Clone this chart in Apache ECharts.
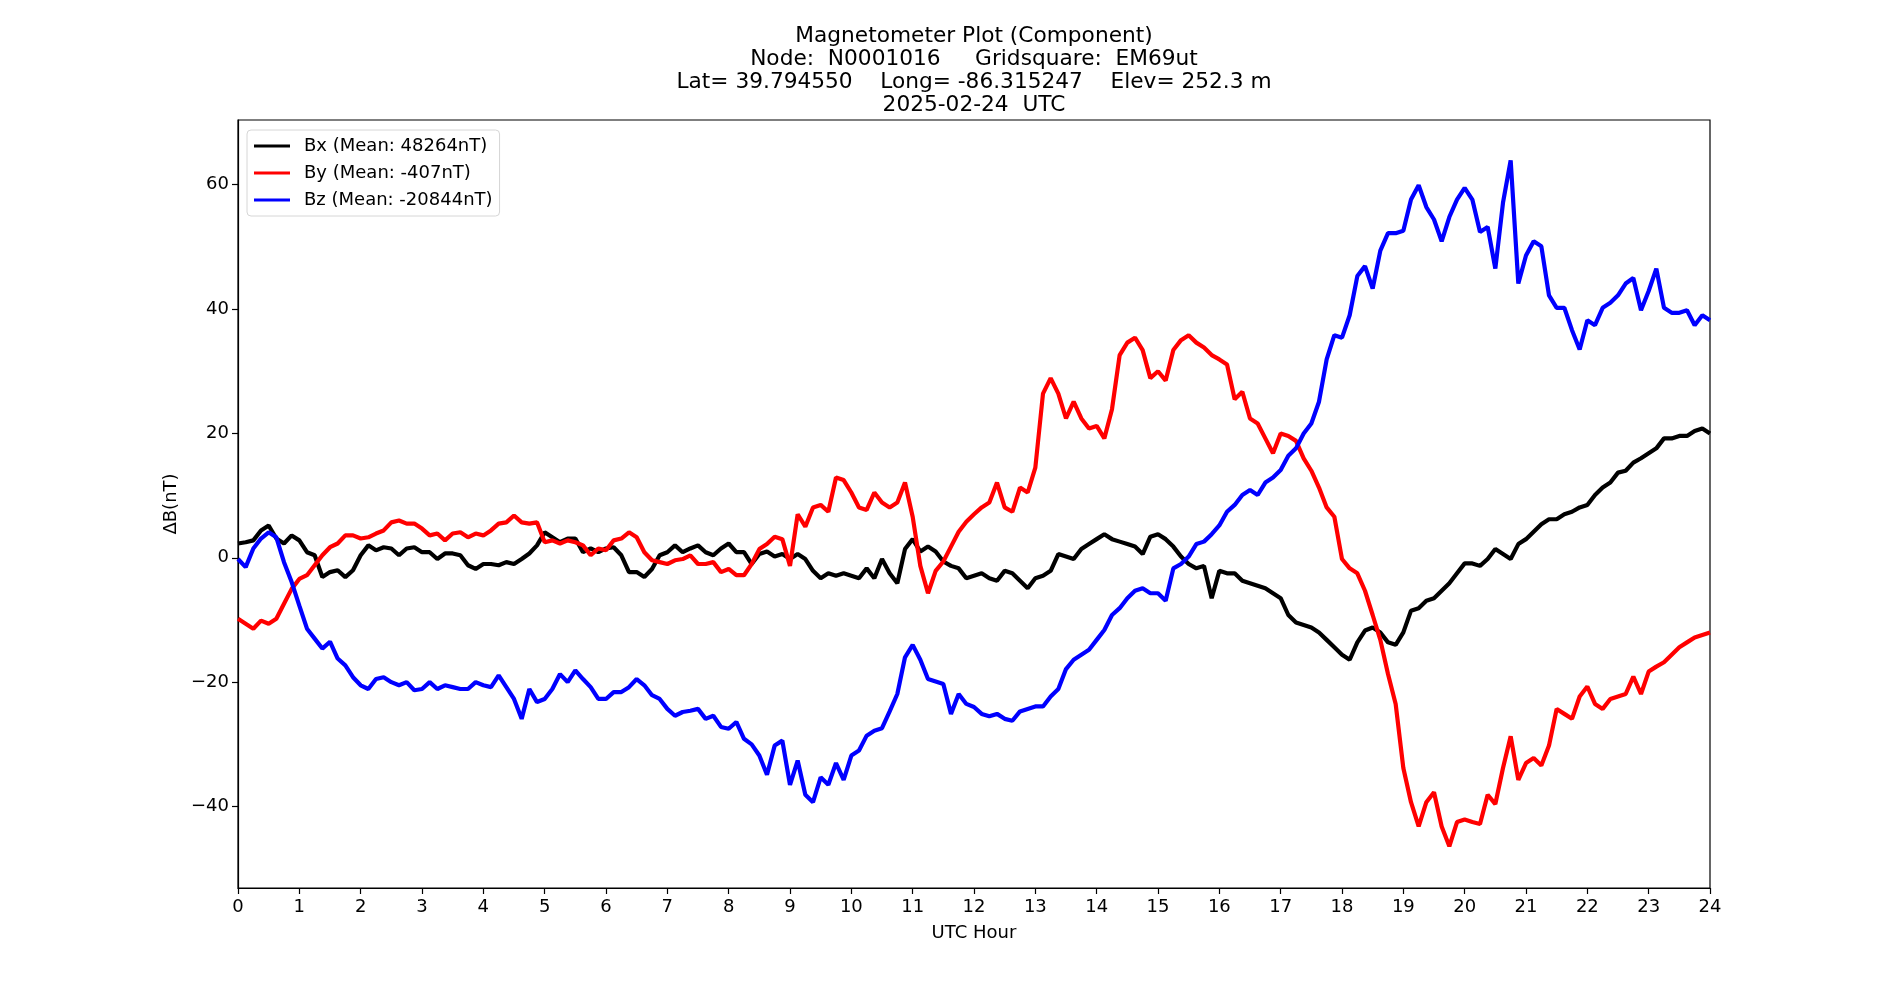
<!DOCTYPE html>
<html>
<head>
<meta charset="utf-8">
<title>Magnetometer Plot</title>
<script src="https://cdn.jsdelivr.net/npm/echarts@6/dist/echarts.min.js"></script>
<style>
  html, body { margin: 0; padding: 0; background: #fff; }
  #root { width: 1900px; height: 1000px; }
</style>
</head>
<body>
<div id="root"></div>
<script>
// delta B in nT, every 1/8 hour (one row = one hour)
const step = 0.125;
const bx = [
  2.3, 2.5, 2.8, 4.4, 5.2, 3.1, 2.3, 3.6,
  2.8, 0.9, 0.4, -3.1, -2.3, -2.0, -3.1, -2.0,
  0.4, 2.0, 1.2, 1.7, 1.5, 0.4, 1.5, 1.7,
  0.9, 0.9, -0.2, 0.7, 0.7, 0.4, -1.2, -1.8,
  -1.0, -1.0, -1.2, -0.7, -1.0, -0.2, 0.7, 2.0,
  4.1, 3.3, 2.5, 3.1, 3.1, 0.9, 1.5, 0.9,
  1.5, 1.7, 0.4, -2.3, -2.3, -3.1, -1.8, 0.4,
  0.9, 2.0, 0.9, 1.5, 2.0, 0.9, 0.4, 1.5,
  2.3, 0.9, 0.9, -1.0, 0.6, 1.0, 0.2, 0.6,
  -0.2, 0.6, -0.2, -2.1, -3.3, -2.5, -2.9, -2.5,
  -2.9, -3.3, -1.7, -3.3, -0.2, -2.5, -4.1, 1.4,
  3.0, 1.0, 1.8, 1.0, -0.6, -1.3, -1.7, -3.3,
  -2.9, -2.5, -3.3, -3.7, -2.1, -2.5, -3.7, -4.9,
  -3.3, -2.9, -2.1, 0.6, 0.2, -0.2, 1.4, 2.2,
  3.0, 3.8, 3.0, 2.6, 2.2, 1.8, 0.6, 3.4,
  3.8, 3.0, 1.8, 0.2, -1.0, -1.7, -1.3, -6.5,
  -2.1, -2.5, -2.5, -3.7, -4.1, -4.5, -4.9, -5.7,
  -6.5, -9.2, -10.4, -10.8, -11.2, -12.0, -13.2, -14.4,
  -15.6, -16.4, -13.6, -11.7, -11.2, -12.0, -13.6, -14.0,
  -12.0, -8.5, -8.1, -6.9, -6.5, -5.3, -4.1, -2.5,
  -0.9, -0.9, -1.3, -0.2, 1.4, 0.6, -0.2, 2.2,
  3.0, 4.2, 5.4, 6.2, 6.2, 7.0, 7.4, 8.1,
  8.5, 10.1, 11.3, 12.1, 13.7, 14.0, 15.3, 16.0,
  16.8, 17.6, 19.2, 19.2, 19.6, 19.6, 20.4, 20.8,
  20.0
];
const by = [
  -9.8, -10.6, -11.4, -10.1, -10.6, -9.8, -7.4, -5.0,
  -3.4, -2.8, -1.2, 0.4, 1.7, 2.3, 3.6, 3.6,
  3.1, 3.3, 3.9, 4.4, 5.7, 6.0, 5.5, 5.5,
  4.7, 3.6, 3.9, 2.8, 3.9, 4.1, 3.3, 3.9,
  3.6, 4.4, 5.5, 5.7, 6.8, 5.7, 5.5, 5.7,
  2.5, 2.8, 2.3, 2.8, 2.5, 2.0, 0.4, 1.5,
  1.2, 2.8, 3.1, 4.1, 3.3, 0.9, -0.4, -0.7,
  -1.0, -0.4, -0.2, 0.4, -1.0, -1.0, -0.7, -2.3,
  -1.8, -2.8, -2.8, -1.0, 1.4, 2.2, 3.4, 3.0,
  -1.3, 7.0, 5.0, 8.1, 8.5, 7.4, 12.9, 12.5,
  10.5, 8.1, 7.7, 10.5, 8.9, 8.1, 8.9, 12.1,
  6.6, -1.3, -5.7, -2.1, -0.6, 1.8, 4.2, 5.8,
  7.0, 8.1, 8.9, 12.1, 8.1, 7.4, 11.3, 10.5,
  14.5, 26.4, 28.9, 26.4, 22.4, 25.1, 22.4, 20.8,
  21.2, 19.2, 23.9, 32.6, 34.6, 35.4, 33.4, 28.9,
  30.0, 28.5, 33.4, 35.0, 35.8, 34.6, 33.8, 32.6,
  31.9, 31.1, 25.5, 26.7, 22.4, 21.6, 19.2, 16.8,
  20.0, 19.6, 18.8, 16.0, 14.0, 11.3, 8.1, 6.6,
  -0.2, -1.7, -2.5, -5.3, -9.2, -13.2, -18.7, -23.5,
  -33.8, -39.3, -43.2, -39.3, -37.7, -43.2, -46.4, -42.5,
  -42.1, -42.5, -42.8, -38.1, -39.6, -33.8, -28.7, -35.7,
  -33.0, -32.2, -33.4, -30.2, -24.3, -25.1, -25.9, -22.3,
  -20.7, -23.5, -24.3, -22.7, -22.3, -21.9, -19.1, -21.9,
  -18.3, -17.5, -16.8, -15.6, -14.4, -13.6, -12.8, -12.4,
  -12.0
];
const bz = [
  -0.2, -1.5, 1.5, 3.1, 4.1, 3.3, -0.7, -3.9,
  -7.7, -11.4, -13.0, -14.6, -13.5, -16.2, -17.3, -19.2,
  -20.5, -21.1, -19.5, -19.2, -20.0, -20.5, -20.0, -21.3,
  -21.1, -20.0, -21.1, -20.5, -20.8, -21.1, -21.1, -20.0,
  -20.5, -20.8, -18.9, -20.8, -22.7, -25.9, -21.1, -23.2,
  -22.7, -21.1, -18.7, -20.0, -18.1, -19.5, -20.8, -22.7,
  -22.7, -21.6, -21.6, -20.8, -19.5, -20.5, -22.1, -22.7,
  -24.3, -25.4, -24.8, -24.6, -24.3, -25.9, -25.4, -27.2,
  -27.5, -26.4, -29.1, -30.0, -31.8, -34.9, -30.2, -29.4,
  -36.5, -32.6, -38.1, -39.3, -35.3, -36.5, -33.0, -35.7,
  -31.8, -31.0, -28.6, -27.8, -27.4, -24.7, -21.9, -16.0,
  -14.0, -16.4, -19.5, -19.9, -20.3, -25.1, -21.9, -23.5,
  -24.0, -25.1, -25.5, -25.1, -25.9, -26.2, -24.7, -24.3,
  -23.9, -23.9, -22.3, -21.1, -17.9, -16.4, -15.6, -14.8,
  -13.2, -11.6, -9.2, -8.1, -6.5, -5.3, -4.9, -5.7,
  -5.7, -6.9, -1.7, -1.0, 0.2, 2.2, 2.6, 3.8,
  5.2, 7.4, 8.5, 10.1, 10.9, 10.1, 12.1, 12.9,
  14.1, 16.4, 17.6, 20.0, 21.6, 25.1, 31.9, 35.8,
  35.4, 39.0, 45.3, 46.9, 43.3, 49.4, 52.2, 52.2,
  52.6, 57.6, 59.9, 56.4, 54.4, 50.9, 54.8, 57.6,
  59.5, 57.6, 52.4, 53.2, 46.5, 57.1, 63.9, 44.1,
  48.6, 50.9, 50.1, 42.2, 40.2, 40.2, 36.6, 33.5,
  38.2, 37.4, 40.2, 41.0, 42.2, 44.1, 45.0, 39.8,
  42.9, 46.5, 40.2, 39.4, 39.4, 39.8, 37.4, 39.0,
  38.2
];
const yTicks = [-40, -20, 0, 20, 40, 60];
const names = ['Bx (Mean: 48264nT)', 'By (Mean: -407nT)', 'Bz (Mean: -20844nT)'];
const colors = ['#000000', '#ff0000', '#0000ff'];

const font = 'DejaVu Sans';
let root = document.getElementById('root');
let myChart = echarts.init(root);

// pair each reading with its UTC hour
function pairs(vals) {
  return vals.map((v, i) => [i * step, v]);
}
function minus(v) {
  return v < 0 ? '\u2212' + Math.abs(v) : String(v);
}

let option = {
  animation: false,
  backgroundColor: '#fff',
  title: {
    text: 'Magnetometer Plot (Component)\nNode:  N0001016     Gridsquare:  EM69ut\nLat= 39.794550    Long= -86.315247    Elev= 252.3 m\n2025-02-24  UTC',
    left: 974,
    top: 25,
    padding: 0,
    textAlign: 'center',
    textStyle: {
      fontFamily: font,
      fontWeight: 'normal',
      fontSize: 21.7,
      lineHeight: 23,
      color: '#000'
    }
  },
  legend: {
    orient: 'vertical',
    left: 247,
    top: 130,
    padding: [7, 7, 7, 7],
    itemGap: 9,
    itemWidth: 36,
    itemHeight: 3,
    icon: 'rect',
    backgroundColor: '#fff',
    borderColor: '#d6d6d6',
    borderWidth: 1,
    borderRadius: 4,
    textStyle: { fontFamily: font, fontSize: 18, color: '#000', padding: [0, 0, 0, 9] },
    data: names
  },
  grid: {
    left: 238,
    right: 190,
    top: 120,
    bottom: 112,
    show: true,
    borderColor: '#000',
    borderWidth: 1.2
  },
  xAxis: {
    type: 'value',
    min: 0,
    max: 24,
    interval: 1,
    name: 'UTC Hour',
    nameLocation: 'middle',
    nameGap: 36,
    nameTextStyle: { fontFamily: font, fontSize: 18, color: '#000' },
    axisLine: { onZero: false, lineStyle: { color: '#000', width: 1.2 } },
    axisTick: { length: 6, lineStyle: { color: '#000', width: 1.2 } },
    axisLabel: { margin: 10, fontFamily: font, fontSize: 18, color: '#000' },
    splitLine: { show: false }
  },
  yAxis: {
    type: 'value',
    min: -53.1,
    max: 70.4,
    name: '\u0394B(nT)',
    nameLocation: 'middle',
    nameGap: 52,
    nameRotate: 90,
    nameTextStyle: { fontFamily: font, fontSize: 18, color: '#000' },
    axisLine: { show: true, onZero: false, lineStyle: { color: '#000', width: 1.2 } },
    axisTick: { show: true, length: 6, customValues: yTicks, lineStyle: { color: '#000', width: 1.2 } },
    axisLabel: {
      margin: 9,
      customValues: yTicks,
      fontFamily: font,
      fontSize: 18,
      color: '#000',
      formatter: minus
    },
    splitLine: { show: false }
  },
  series: [bx, by, bz].map((vals, i) => ({
    name: names[i],
    type: 'line',
    symbol: 'none',
    data: pairs(vals),
    lineStyle: { color: colors[i], width: 4.2 },
    itemStyle: { color: colors[i] },
    z: 2 + i
  }))
};
myChart.setOption(option);
</script>
</body>
</html>
